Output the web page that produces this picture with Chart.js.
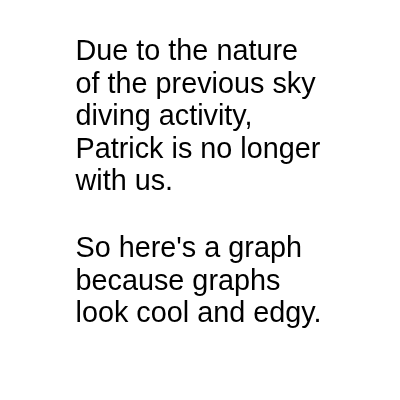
<!DOCTYPE html>
<html>
<head>
<meta charset="utf-8">
<script src="https://cdn.jsdelivr.net/npm/chart.js@4"></script>
<style>
  html, body { margin: 0; padding: 0; background: #ffffff; }
  #wrap { width: 400px; height: 400px; position: relative; }
</style>
</head>
<body>
<div id="wrap"><canvas id="c"></canvas></div>
<script>
const paragraphOne = [
  "Due to the nature",
  "of the previous sky",
  "diving activity,",
  "Patrick is no longer",
  "with us."
];
const paragraphTwo = [
  "So here's a graph",
  "because graphs",
  "look cool and edgy."
];
const categories = [];
const seriesValues = [];

new Chart(document.getElementById('c'), {
  type: 'line',
  data: { labels: categories, datasets: [{ data: seriesValues }] },
  options: {
    responsive: true,
    maintainAspectRatio: false,
    animation: false,
    layout: { padding: { left: 75.5, top: 0, right: 0, bottom: 0 } },
    scales: { x: { display: false }, y: { display: false } },
    plugins: {
      legend: { display: false },
      tooltip: { enabled: false },
      title: {
        display: true,
        text: paragraphOne,
        align: 'start',
        color: '#000000',
        font: { family: "'Liberation Sans', Arial, sans-serif", size: 28.8, weight: 'normal', lineHeight: 32.6 / 28.8 },
        padding: { top: 35.7, bottom: 0 }
      },
      subtitle: {
        display: true,
        text: paragraphTwo,
        align: 'start',
        color: '#000000',
        font: { family: "'Liberation Sans', Arial, sans-serif", size: 28.8, weight: 'normal', lineHeight: 32.6 / 28.8 },
        padding: { top: 34.2, bottom: 0 }
      }
    }
  }
});
</script>
</body>
</html>
